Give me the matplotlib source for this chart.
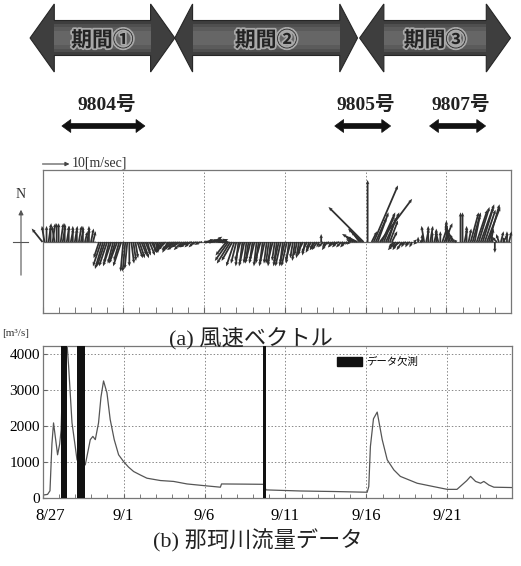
import matplotlib
matplotlib.use("Agg")
import matplotlib.pyplot as plt
from matplotlib import patches, transforms, patheffects
import numpy as np

plt.rcParams['font.family'] = ['Liberation Serif', 'Noto Sans CJK JP']

W, H = 521, 566

# 横軸は 8/27 0:00 からの経過日数
n_days = 29
date_ticks = [0, 5, 10, 15, 20, 25]
date_labels = ["8/27", "9/1", "9/6", "9/11", "9/16", "9/21"]

# 風速ベクトル [m/s] 3時間毎 (1行 = 1日)
wind_u = [
    -4, -1, 0, 1, 0, 1, -1, 0,
    0, 1, 1, 0, 1, 0, 1, 0,
    1, 0, 1, 1, 0, 1, 1, 0,
    1, 1, 0, 0, -2, -3, -3, -3,
    -3, -2, -3, -2, -2, -3, -2, -3,
    -1, -1, -1, 0, 1, 1, 1, 2,
    2, 2, 2, 2, 1, 2, 2, 1,
    1, 0, -1, -2, -2, -3, -2, -3,
    -3, -4, -3, -4, -3, -3, -2, -3,
    -3, -2, -3, -2, -2, -1, -2, -1,
    2, 3, 2, 3, 4, 3, 4, 3,
    3, 2, 2, -4, -5, -5, -4, -3,
    -2, -1, -2, -1, -2, -1, -1, -2,
    -1, -2, -1, -1, -2, -1, -2, -1,
    -1, -1, -2, -1, -1, -2, -2, -1,
    -2, -2, -1, -2, -1, -1, -1, -1,
    -1, -2, -1, -2, -1, -2, -1, -2,
    -2, -1, 0, -2, -1, -2, -1, -1,
    -2, -1, -2, -3, -2, -1, -2, -1,
    -1, -2, -3, -5, -4, -3, -5, -13,
    0, 0, 0, 2, 9, 4, 4, 12,
    5, 4, 5, 3, 3, 2, -2, -3,
    -2, -3, -2, -1, -2, -1, -2, -1,
    1, -1, 0, 1, 0, -1, 1, 0,
    1, 0, 1, 0, -1, 0, 2, 3,
    0, -1, -2, -2, -2, -1, 0, 0,
    0, 1, 0, 1, 3, 3, 2, 4,
    4, 5, 4, 4, 5, 4, 1, -1,
    0, -2, -1, 1, 2, -1, 0, 1,
]
wind_v = [
    5, 6, 6, 7, 6, 7, 6, 7,
    7, 7, 6, 7, 6, 6, 5, 6,
    6, 5, 6, 5, 6, 4, 5, 6,
    5, 4, 0.5, 0, -6, -9, -10, -9,
    -9, -8, -9, -8, -7, -8, -7, -9,
    -11, -11, -10, -9, -8, -7, -6, -6,
    -6, -5, -6, -5, -4, -5, -4, -4,
    -4, -4, -3, -4, -3, -3, -4, -3,
    -3, -3, -2, -3, -2, -3, -2, -2,
    -2, -2, -1, -2, -1, -1, -1, 0,
    0, 1, 0, 1, 1, 2, 1, 0,
    1, 1, 0, -5, -7, -8, -7, -9,
    -8, -9, -7, -8, -9, -8, -7, -8,
    -7, -8, -9, -8, -7, -8, -9, -8,
    -8, -9, -8, -7, -8, -9, -9, -8,
    -9, -9, -8, -7, -6, -7, -5, -6,
    -5, -4, -5, -4, -3, -4, -3, -3,
    -3, -2, 3, -2, -2, -3, -1, -2,
    -2, -1, -2, -1, -2, -1, -2, -1,
    -1, 1, 2, 3, 2, 4, 5, 13,
    0, 23, 0, 4, 21, 9, 11, 16,
    11, 10, 11, 9, 8, 4, -2, -3,
    -3, -2, -3, -2, -1, -2, -1, -2,
    1, -1, 2, 1, 3, 6, 5, 6,
    6, 4, 4, 5, 4, 4, 6, 7,
    8, 7, 6, 5, 3, 1, 0, 11,
    11, 5, 6, 5, 11, 11, 10, 12,
    13, 14, 13, 12, 13, 14, 5, 3,
    -4, 2, 3, 4, 3, 2, 4, 4,
]

# 那珂川流量 [m3/s]
flow_day = [0.0, 0.3, 0.45, 0.57, 0.67, 0.75, 0.92, 1.05, 1.14, 1.3, 1.5, 1.6,
            1.81, 2.01, 2.12, 2.4, 2.63, 2.8, 2.94, 3.1, 3.25, 3.45, 3.6, 3.76,
            3.97, 4.17, 4.42, 4.69, 5.0, 5.3, 5.62, 6.03, 6.44, 7.27, 8.09, 8.92,
            10.16, 10.98, 11.05, 12.5, 13.64, 13.8, 15.9, 17.98, 20.05, 20.15,
            20.25, 20.44, 20.67, 20.98, 21.29, 21.7, 22.1, 23.14, 24.17, 25.0,
            25.6, 25.9, 26.2, 26.44, 26.75, 27.06, 27.26, 27.57, 27.88, 29.0]
flow_q = [80, 100, 200, 1500, 2085, 1800, 1200, 1500, 1900, 4500, 4300, 3670,
          2090, 1430, 1060, 900, 920, 1300, 1620, 1710, 1620, 2085, 2800, 3250,
          2920, 2180, 1620, 1200, 1010, 860, 735, 640, 550, 485, 460, 390,
          335, 300, 390, 385, 380, 225, 195, 180, 160, 320,
          1430, 2200, 2385, 1620, 1060, 780, 600, 410, 315, 240,
          240, 360, 480, 600, 460, 410, 460, 360, 300, 290]

# データ欠測区間 [日]
missing = [(1.14, 1.53), (2.12, 2.59), (13.64, 13.79)]

# 期間と台風 [日]
periods = [("期間①", -0.77, 8.19), ("期間②", 8.19, 19.5), ("期間③", 19.63, 28.97)]
period_head = [1.5, 1.1, 1.5]
typhoons = [("9804号", 1.2, 6.34), ("9805号", 18.09, 21.55), ("9807号", 23.96, 27.43)]


def fy(py):
    # 上からのピクセル位置 -> figure座標
    return 1 - py / H


def double_arrow(x0, x1, yc, hb, hh, hl):
    return [(x0, yc), (x0 + hl, yc + hh), (x0 + hl, yc + hb), (x1 - hl, yc + hb),
            (x1 - hl, yc + hh), (x1, yc), (x1 - hl, yc - hh), (x1 - hl, yc - hb),
            (x0 + hl, yc - hb), (x0 + hl, yc - hh)]


fig = plt.figure(figsize=(W / 100, H / 100), dpi=100)

# ---- (a) 風速ベクトル ----
ax_w = fig.add_axes([42.5 / W, fy(313), 468.5 / W, 143 / H])
ylim_w = (-26.3, 26.7)
ax_w.set_xlim(0, n_days)
ax_w.set_ylim(*ylim_w)
px_day = 468.5 / n_days
px_ms = 143 / (ylim_w[1] - ylim_w[0])
k = px_ms / px_day

t = np.arange(len(wind_u)) / 8
u = np.array(wind_u, dtype=float) * k
v = np.array(wind_v, dtype=float)
ax_w.axhline(0, color="#666666", lw=0.9, zorder=2)
q = ax_w.quiver(t, np.zeros_like(t), u, v, angles="xy", scale_units="xy", scale=1,
                color="#303030", width=0.0038, headwidth=2, headlength=2.4,
                headaxislength=2.1, minlength=0, zorder=3)
q.set_clip_on(False)

ax_w.set_xticks(date_ticks)
ax_w.set_xticks(range(n_days), minor=True)
ax_w.set_xticklabels([])
ax_w.set_yticks([])
ax_w.tick_params(axis="x", which="both", direction="in", length=4, color="#666666")
ax_w.grid(axis="x", which="major", ls=(0, (1.5, 2)), color="#888888", lw=0.7)
for s in ax_w.spines.values():
    s.set_color("#777777")
    s.set_linewidth(0.9)

# 方位と縮尺
blend_n = transforms.blended_transform_factory(fig.transFigure, ax_w.transData)
ax_w.annotate("", xy=(21 / W, 13), xytext=(21 / W, -13.3), xycoords=blend_n,
              textcoords=blend_n, annotation_clip=False,
              arrowprops=dict(arrowstyle="-|>", color="#555555", lw=0.8,
                              mutation_scale=7))
ax_w.plot([13 / W, 28 / W], [0, 0], transform=blend_n, clip_on=False,
          color="#555555", lw=0.8)
ax_w.text(21 / W, 17.5, "N", transform=blend_n, ha="center", va="center",
          fontsize=10, color="#333333")

blend_s = transforms.blended_transform_factory(ax_w.transData, fig.transFigure)
ax_w.annotate("", xy=(10 * k, fy(164)), xytext=(0, fy(164)), xycoords=blend_s,
              textcoords=blend_s, annotation_clip=False,
              arrowprops=dict(arrowstyle="-|>", color="#444444", lw=0.8,
                              mutation_scale=6, shrinkA=0, shrinkB=0))
ax_w.text(10 * k + 0.15, fy(163), "10[m/sec]", transform=blend_s, ha="left",
          va="center", fontsize=10, color="#333333")

# 期間の矢印 (胴体は中央ほど明るく)
body_shades = [(17.5, "#444444"), (14, "#4f4f4f"), (10.5, "#5b5b5b"), (7, "#666666")]
for (name, x0, x1), hl in zip(periods, period_head):
    pts = double_arrow(x0, x1, fy(38), 17.5 / H, 34 / H, hl)
    fig.add_artist(patches.Polygon(pts, closed=True, transform=blend_s,
                                   facecolor="#3e3e3e", edgecolor="#262626",
                                   lw=0.8, clip_on=False))
    for half, col in body_shades[1:]:
        fig.add_artist(patches.Rectangle((x0 + hl, fy(38 + half)), x1 - x0 - 2 * hl,
                                         2 * half / H, transform=blend_s,
                                         facecolor=col, edgecolor="none",
                                         clip_on=False))
    fig.text((x0 + x1) / 2, fy(40), name, transform=blend_s, ha="center",
             va="center", fontsize=15, weight="bold", color="#232323",
             family=["Noto Sans CJK JP"],
             path_effects=[patheffects.withStroke(linewidth=2.5,
                                                  foreground="#a8a8a8")])

# 台風の矢印
for name, x0, x1 in typhoons:
    pts = double_arrow(x0, x1, fy(126), 2.5 / H, 6.5 / H, 0.55)
    fig.add_artist(patches.Polygon(pts, closed=True, transform=blend_s,
                                   facecolor="#111111", edgecolor="#111111",
                                   lw=0.5, clip_on=False))
    fig.text((x0 + x1) / 2 + 0.2, fy(105), name, transform=blend_s, ha="center",
             va="center", fontsize=14, weight="bold", color="#222222")

# ---- (b) 流量 ----
ax_f = fig.add_axes([42.7 / W, fy(498), 469.3 / W, 152 / H])
ax_f.plot(flow_day, flow_q, color="#555555", lw=0.9, zorder=2)
for a, b in missing:
    ax_f.axvspan(a, b, color="#111111", lw=0, zorder=3)
ax_f.set_xlim(0, n_days)
ax_f.set_ylim(0, 4220)
ax_f.set_yticks([0, 1000, 2000, 3000, 4000])
ax_f.set_xticks(date_ticks)
ax_f.set_xticklabels(date_labels)
ax_f.set_xticks(range(n_days), minor=True)
ax_f.tick_params(axis="x", which="both", direction="in", length=3, color="#666666",
                 labelsize=12, pad=7)
ax_f.tick_params(axis="y", direction="in", length=3, color="#666666",
                 labelsize=11, pad=2)
ax_f.grid(which="major", ls=(0, (1.5, 2)), color="#888888", lw=0.7)
for s in ax_f.spines.values():
    s.set_color("#777777")
    s.set_linewidth(0.9)
lab = ax_f.get_xticklabels()[0]
lab.set_transform(lab.get_transform() +
                  transforms.ScaledTranslation(7 / 100, 0, fig.dpi_scale_trans))

ax_f.legend(handles=[patches.Patch(facecolor="#111111", edgecolor="#111111")],
            labels=["データ欠測"], loc="upper left", bbox_to_anchor=(0.627, 0.93),
            frameon=False, borderpad=0, borderaxespad=0, handlelength=2.4,
            handleheight=0.9, handletextpad=0.4,
            prop=dict(family=["Noto Sans CJK JP"], size=7.5))

# 見出し
fig.text(251 / W, fy(338), "(a) 風速ベクトル", ha="center", va="center", fontsize=16,
         color="#222222")
fig.text(258 / W, fy(541), "(b) 那珂川流量データ", ha="center", va="center",
         fontsize=16, color="#222222")
fig.text(2 / W, fy(333), "[m³/s]", ha="left", va="center", fontsize=8,
         color="#333333")

fig.savefig("out.png", dpi=100)
